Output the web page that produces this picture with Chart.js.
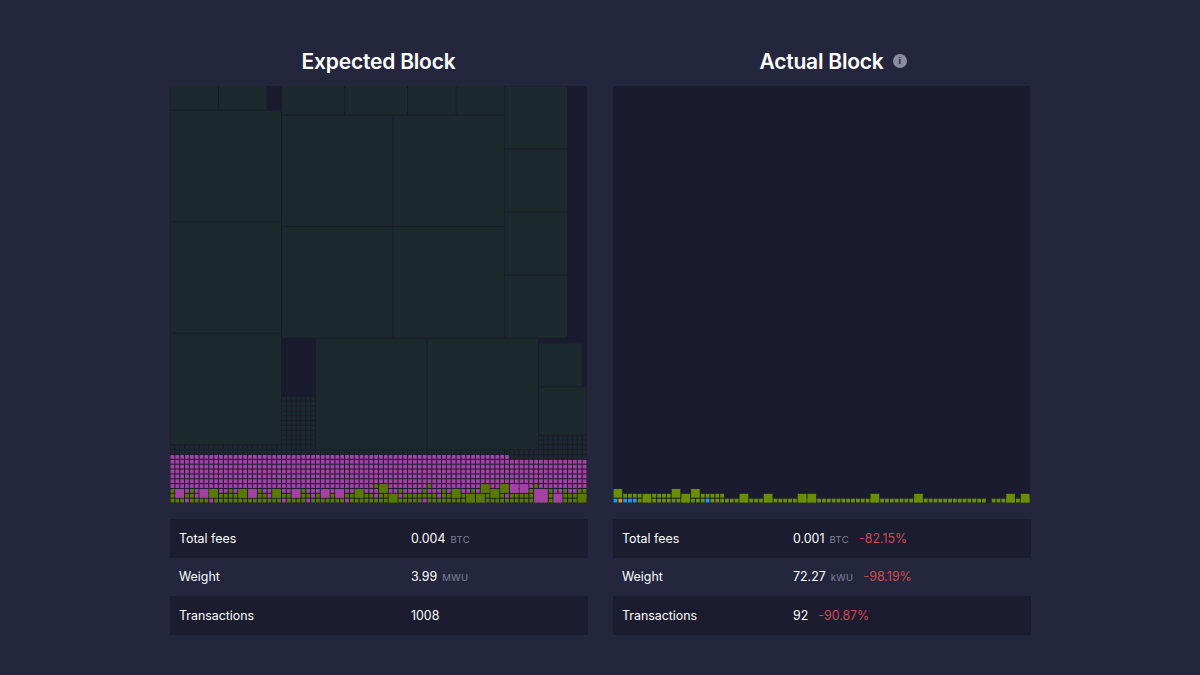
<!DOCTYPE html>
<html><head><meta charset="utf-8">
<script src="https://cdn.jsdelivr.net/npm/chart.js@4.4.0/dist/chart.umd.min.js"></script>
<style>
html,body{margin:0;padding:0}
body{width:1200px;height:675px;background:#24263e;font-family:Inter,"Noto Sans",sans-serif;overflow:hidden;position:relative;color:#fff}
.title{position:absolute;top:47px;width:417px;text-align:center;font-size:21px;font-weight:600;line-height:30px;letter-spacing:-0.2px}
.info{display:inline-block;width:14px;height:14px;border-radius:50%;background:#8a8ca0;color:#24263e;font-size:9px;font-weight:700;line-height:14px;text-align:center;position:absolute;left:100%;margin-left:9px;top:7px;letter-spacing:0}
.tw{position:relative;display:inline-block}
.block{position:absolute;top:86px;width:417px;height:417px;background:#1a1b2e}
table{position:absolute;top:519px;width:418px;border-collapse:collapse;font-size:12.4px}
td{height:38.5px;padding:0 0 0 9px;white-space:nowrap}
tr:nth-child(odd) td{background:#1b1c2f}
.u{font-size:9.5px;color:#7f8198;margin-left:5px;letter-spacing:0.4px}
.r{color:#d04a50;margin-left:10px}
</style></head>
<body>
<div class="title" style="left:170px">Expected Block</div>
<div class="title" style="left:613px"><span class="tw">Actual Block<span class="info">i</span></span></div>
<div class="block" style="left:170px"><canvas id="exp" width="417" height="417"></canvas></div>
<div class="block" style="left:613px"><canvas id="act" width="417" height="417"></canvas></div>
<table style="left:170px">
<tr><td style="width:223px">Total fees</td><td>0.004<span class="u">BTC</span></td></tr>
<tr><td>Weight</td><td>3.99<span class="u">MWU</span></td></tr>
<tr><td>Transactions</td><td>1008</td></tr>
</table>
<table style="left:613px">
<tr><td style="width:162px">Total fees</td><td>0.001<span class="u">BTC</span><span class="r">-82.15%</span></td></tr>
<tr><td>Weight</td><td>72.27<span class="u">kWU</span><span class="r">-98.19%</span></td></tr>
<tr><td>Transactions</td><td>92<span class="r">-90.87%</span></td></tr>
</table>
<script>
// Grid size of the block (units across / up)
const GRID = 86;

// Expected block: transactions as squares [x, y, size, kind] in grid units, y from the bottom
const expectedCells = [
  [0,12,23,'d'],[0,35,23,'d'],[0,58,23,'d'],[0,81,10,'d'],[10,81,10,'d'],
  [23,80,13,'d'],[36,80,13,'d'],[49,80,10,'d'],[59,80,10,'d'],
  [23,57,23,'d'],[46,57,23,'d'],[23,34,23,'d'],[46,34,23,'d'],
  [30,11,23,'d'],[53,11,23,'d'],
  [69,73,13,'d'],[69,60,13,'d'],[69,47,13,'d'],[69,34,13,'d'],
  [76,24,9,'d'],[76,14,10,'d'],
  [1,1,2,'p'],[6,1,2,'p'],[8,1,2,'g'],[14,1,2,'g'],[16,1,2,'p'],[21,1,2,'g'],
  [25,1,2,'p'],[31,1,2,'p'],[34,1,2,'p'],[38,1,2,'g'],[43,2,2,'g'],[45,0,2,'g'],
  [58,1,2,'g'],[61,0,2,'g'],[63,0,2,'g'],[64,2,2,'g'],[66,1,2,'g'],[68,2,2,'g'],
  [70,2,2,'p'],[72,2,2,'p'],[75,0,3,'p'],[79,0,2,'p'],[84,0,2,'g']
];
// Expected block: rows of single-unit transactions, top row first (row 21 down to row 0)
const expectedRows = [
  "..........|..........|...ddddddd|..........|..........|..........|..........|..........|......",
  "..........|..........|...ddddddd|..........|..........|..........|..........|..........|......",
  "..........|..........|...ddddddd|..........|..........|..........|..........|..........|......",
  "..........|..........|...ddddddd|..........|..........|..........|..........|..........|......",
  "..........|..........|...ddddddd|..........|..........|..........|..........|..........|......",
  "..........|..........|...ddddddd|..........|..........|..........|..........|..........|......",
  "..........|..........|...ddddddd|..........|..........|..........|..........|..........|......",
  "..........|..........|...ddddddd|..........|..........|..........|..........|..........|......",
  "..........|..........|...ddddddd|..........|..........|..........|..........|......dddd|dddddd",
  "..........|..........|...ddddddd|..........|..........|..........|..........|......dddd|dddddd",
  "dddddddddd|dddddddddd|dddddddddd|..........|..........|..........|..........|......dddd|dddddd",
  "dddddddddd|dddddddddd|dddddddddd|dddddddddd|dddddddddd|dddddddddd|dddddddddd|dddddddddd|dddddd",
  "pppppppppp|pppppppppp|pppppppppp|pppppppppp|pppppppppp|pppppppppp|pppppppppp|dddddddddd|dddddd",
  "pppppppppp|pppppppppp|pppppppppp|pppppppppp|pppppppppp|pppppppppp|pppppppppp|pppppppppp|pppppp",
  "pppppppppp|pppppppppp|pppppppppp|pppppppppp|pppppppppp|pppppppppp|pppppppppp|pppppppppp|pppppp",
  "pppppppppp|pppppppppp|pppppppppp|pppppppppp|pppppppppp|pppppppppp|pppppppppp|pppppppppp|pppppp",
  "pppppppppp|pppppppppp|pppppppppp|pppppppppp|pppppppppp|pppppppppp|pppppppppp|pppppppppp|pppppp",
  "pppppppppp|pppppppppp|pppppppppp|pppppppppp|pppppppppp|pppppppppp|pppppppppp|pppppppppp|pppppp",
  "pppppppppp|pppppppppp|pppppppppp|pppppppppp|ppgppppppp|pppgpppppp|pppppppppp|pppppgpppp|pppppp",
  "gpppgppgpp|ppgpppgpgp|pgpppppgpp|ppgppgpppg|pppggppgpp|ppgpppgppg|ppgppppppp|ppgpgppggp|pgppgg",
  "gppggpgggg|ggggppgggg|pggggpgggp|gpggppgggg|ggpggggpgg|gggggpgggp|gggggggggp|ggggggpggg|gggggg",
  "gggpggggpg|gggggggggg|gggpggggpg|ggggggpggg|gggggggggg|ggpggggggg|ggggpggggg|gggggggggg|ggggg."
];

// Actual block: larger transactions [x, y, size, kind]
const actualCells = [
  [0,1,2,'g'],[6,0,2,'g'],[12,1,2,'g'],[14,0,2,'g'],[16,1,2,'g'],[26,0,2,'g'],
  [31,0,2,'g'],[38,0,2,'g'],[40,0,2,'g'],[53,0,2,'g'],[62,0,2,'g'],[81,0,2,'g'],[84,0,2,'g']
];
// Actual block: single-unit rows, top row first (row 1, row 0)
const actualRows = [
  "..gggg..gg|gg......gg|ggg.......|..........|..........|..........|..........|..........|......",
  "bobbbggggg|gggggggggb|gggggggggg|gggggggggg|gggggggggg|gggggggggg|gggggggggg|ggggggg.gg|gggggg"
];

const expectedPalette = {d:'#1c2a2d', p:'#a442a2', g:'#587a02'};
const actualPalette = {g:'#698f08', b:'#1f9be0', o:'#e08b2c'};

function buildPoints(cells, rows){
  const pts = [];
  rows.forEach((line, i) => {
    const str = line.replace(/\|/g, '');
    const y = rows.length - 1 - i;
    for (let x = 0; x < str.length; x++) {
      const k = str[x];
      if (k !== '.') pts.push({x: x + 0.5, y: y + 0.5, s: 1, k});
    }
  });
  cells.forEach(([x, y, s, k]) => pts.push({x: x + s / 2, y: y + s / 2, s, k}));
  return pts;
}

function makeBlock(id, cells, rows, palette){
  const GAP = 1;
  const rad = (c) => {
    if (!c.raw) return 0;
    const sc = c.chart.scales.x;
    const upx = sc.getPixelForValue(1) - sc.getPixelForValue(0);
    return Math.max(0.5, c.raw.s * upx - GAP) / Math.SQRT2;
  };
  new Chart(document.getElementById(id), {
    type: 'scatter',
    data: { datasets: [{
      data: buildPoints(cells, rows),
      pointStyle: 'rect',
      pointBorderWidth: 0,
      clip: 0,
      pointRadius: rad,
      pointHoverRadius: rad,
      pointBackgroundColor: (c) => c.raw ? palette[c.raw.k] : '#000'
    }]},
    options: {
      responsive: false, animation: false, events: [],
      layout: { padding: 0 },
      plugins: { legend: { display: false }, tooltip: { enabled: false } },
      scales: {
        x: { type: 'linear', min: 0, max: GRID, display: false },
        y: { type: 'linear', min: 0, max: GRID, display: false }
      }
    }
  });
}

makeBlock('exp', expectedCells, expectedRows, expectedPalette);
makeBlock('act', actualCells, actualRows, actualPalette);
</script>
</body></html>
